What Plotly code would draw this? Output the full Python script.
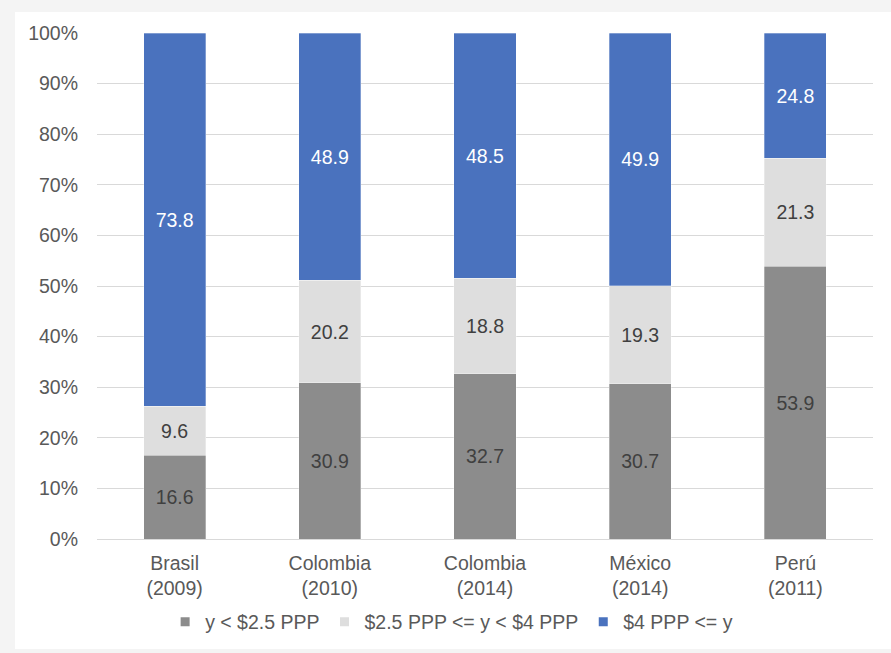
import plotly.graph_objects as go

# Category labels (two-line: country / survey year)
categories = ["Brasil<br>(2009)", "Colombia<br>(2010)", "Colombia<br>(2014)",
              "México<br>(2014)", "Perú<br>(2011)"]

# Share of population by income band (%)
below_2_5 = [16.6, 30.9, 32.7, 30.7, 53.9]
between_2_5_and_4 = [9.6, 20.2, 18.8, 19.3, 21.3]
above_4 = [73.8, 48.9, 48.5, 49.9, 24.8]

series_names = ["y < $2.5 PPP", "$2.5 PPP <= y < $4 PPP", "$4 PPP <= y"]
series_values = [below_2_5, between_2_5_and_4, above_4]
series_colors = ["#8c8c8c", "#dedede", "#4a72be"]
label_colors = ["#404040", "#404040", "#ffffff"]

y_ticks = [0, 10, 20, 30, 40, 50, 60, 70, 80, 90, 100]
y_tick_text = [f"{v}%" for v in y_ticks]

FONT = "Liberation Sans, Arial, Helvetica, sans-serif"
FS = 19.5

fig = go.Figure()
for name, vals, color, lcolor in zip(series_names, series_values, series_colors, label_colors):
    fig.add_trace(go.Bar(
        x=categories,
        y=vals,
        name=name,
        showlegend=False,
        marker=dict(color=color, line=dict(color="rgba(255,255,255,0.6)", width=0.5)),
        text=vals,
        texttemplate="%{text:.1f}",
        textposition="inside",
        insidetextanchor="middle",
        textangle=0,
        textfont=dict(family=FONT, size=FS, color=lcolor),
        hoverinfo="skip",
    ))

# Legend entries with small square swatches
for name, color in zip(series_names, series_colors):
    fig.add_trace(go.Scatter(
        x=[None], y=[None], mode="markers", name=name,
        marker=dict(symbol="square", size=9, color=color),
        hoverinfo="skip",
    ))

fig.update_layout(
    width=891,
    height=653,
    barmode="stack",
    barnorm="percent",
    bargap=0.6,
    paper_bgcolor="#f4f4f4",
    plot_bgcolor="#ffffff",
    margin=dict(l=97, r=18, t=33, b=114),
    font=dict(family=FONT, size=FS, color="#595959"),
    uniformtext=dict(minsize=FS, mode="show"),
    showlegend=True,
    legend=dict(
        orientation="h",
        x=0.457, xanchor="center",
        y=-0.164, yanchor="middle",
        font=dict(family=FONT, size=FS, color="#595959"),
        bgcolor="rgba(0,0,0,0)",
        traceorder="normal",
    ),
    shapes=[dict(
        type="rect", xref="paper", yref="paper", layer="below",
        x0=(15 - 97) / 776, x1=(891 - 97) / 776,
        y0=(539 - 649) / 506, y1=(539 - 12) / 506,
        fillcolor="#ffffff", line=dict(width=0),
    )],
)

fig.update_xaxes(
    showgrid=False,
    showline=False,
    ticks="",
    ticklabelstandoff=10,
    tickfont=dict(family=FONT, size=FS, color="#595959"),
)
fig.update_yaxes(
    range=[0, 100],
    tickvals=y_ticks,
    ticktext=y_tick_text,
    showgrid=True,
    gridcolor="#d9d9d9",
    gridwidth=1,
    zeroline=True,
    zerolinecolor="#d9d9d9",
    zerolinewidth=1,
    showline=False,
    ticks="",
    ticklabelstandoff=18,
    tickfont=dict(family=FONT, size=FS, color="#595959"),
)

fig.write_html("out.html")
